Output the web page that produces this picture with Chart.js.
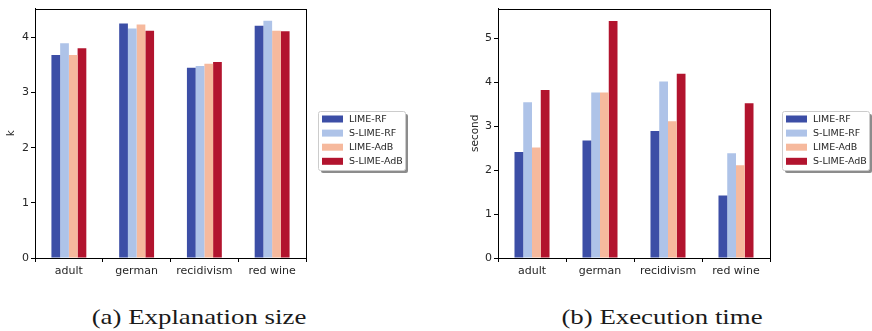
<!DOCTYPE html>
<html>
<head>
<meta charset="utf-8">
<script src="https://cdn.jsdelivr.net/npm/chart.js@4"></script>
<style>
  body { margin: 0; background: #fff; width: 872px; height: 331px; overflow: hidden; position: relative; }
  .box { position: absolute; top: 0; width: 436px; height: 290px; }
  .cap { position: absolute; top: 304px; font-family: "Liberation Serif", serif; font-size: 22px; color: #1a1a1a; white-space: nowrap; transform: translateX(-50%) scaleX(1.22); }
</style>
</head>
<body>
<div class="box" style="left:0"><canvas id="c1" width="436" height="290"></canvas></div>
<div class="box" style="left:436px"><canvas id="c2" width="436" height="290"></canvas></div>
<div class="cap" style="left:199px">(a) Explanation size</div>
<div class="cap" style="left:662px">(b) Execution time</div>
<script>
const categories = ['adult', 'german', 'recidivism', 'red wine'];
const methods = ['LIME-RF', 'S-LIME-RF', 'LIME-AdB', 'S-LIME-AdB'];
const colors = ['#3c4ea6', '#aec3e8', '#f6b99d', '#b2142e'];

// explanation size (k)
const sizeLimeRF = [3.68, 4.25, 3.45, 4.21];
const sizeSLimeRF = [3.89, 4.16, 3.48, 4.30];
const sizeLimeAdB = [3.68, 4.23, 3.52, 4.12];
const sizeSLimeAdB = [3.80, 4.12, 3.55, 4.11];

// execution time (second)
const timeLimeRF = [2.41, 2.67, 2.89, 1.42];
const timeSLimeRF = [3.54, 3.76, 4.01, 2.38];
const timeLimeAdB = [2.51, 3.76, 3.11, 2.11];
const timeSLimeAdB = [3.82, 5.39, 4.19, 3.52];

const tickFont = { family: 'DejaVu Sans', size: 11 };
const titleFont = { family: 'DejaVu Sans', size: 10.5 };

// axes box + legend with shadow, like matplotlib
const boxLegend = {
  id: 'boxLegend',
  afterDraw(chart) {
    const { ctx, chartArea: a } = chart;
    ctx.save();
    ctx.strokeStyle = '#000';
    ctx.lineWidth = 1;
    ctx.strokeRect(Math.round(a.left) + 0.5, Math.round(a.top) + 0.5, Math.round(a.right - a.left), Math.round(a.bottom - a.top));

    const x = Math.round(a.right) + 12, y = 111, w = 87, h = 59;
    ctx.fillStyle = 'rgba(0,0,0,0.45)';
    ctx.beginPath(); ctx.roundRect(x + 3, y + 3, w, h, 2); ctx.fill();
    ctx.fillStyle = '#fff';
    ctx.beginPath(); ctx.roundRect(x + 0.5, y + 0.5, w, h, 2); ctx.fill();
    ctx.strokeStyle = '#cccccc';
    ctx.stroke();
    ctx.font = '9.5px "DejaVu Sans"';
    ctx.textBaseline = 'middle';
    chart.data.datasets.forEach((ds, i) => {
      const cy = y + 8 + i * 14.1;
      ctx.fillStyle = ds.backgroundColor;
      ctx.fillRect(x + 4, cy - 3.5, 21, 7);
      ctx.fillStyle = '#262626';
      ctx.fillText(ds.label, x + 31, cy + 0.5);
    });
    ctx.restore();
  }
};

function makeChart(id, series, yTitle, yMax, yWidth, titlePad, rightPad) {
  new Chart(document.getElementById(id), {
    type: 'bar',
    data: {
      labels: categories,
      datasets: series.map((d, i) => ({
        label: methods[i], data: d, backgroundColor: colors[i], borderWidth: 0
      }))
    },
    options: {
      responsive: false,
      animation: false,
      categoryPercentage: 0.515,
      barPercentage: 1,
      layout: { padding: { left: 0, top: 5, right: rightPad, bottom: 0 } },
      plugins: { legend: { display: false }, tooltip: { enabled: false } },
      scales: {
        x: {
          grid: { display: true, drawOnChartArea: false, drawTicks: true, tickLength: 4, tickColor: '#000' },
          border: { display: true, color: '#000' },
          ticks: { font: tickFont, color: '#262626', padding: 3, maxRotation: 0 },
          afterFit(s) { s.height = 32; }
        },
        y: {
          min: 0, max: yMax,
          grid: { display: true, drawOnChartArea: false, drawTicks: true, tickLength: 4, tickColor: '#000' },
          border: { display: true, color: '#000' },
          ticks: { font: tickFont, color: '#262626', padding: 2, stepSize: 1 },
          afterBuildTicks(s) { s.ticks = s.ticks.filter(t => Number.isInteger(t.value)); },
          title: { display: true, text: yTitle, font: titleFont, color: '#262626', padding: { top: titlePad, bottom: 0 } },
          afterFit(s) { s.width = yWidth; }
        }
      }
    },
    plugins: [boxLegend]
  });
}

makeChart('c1', [sizeLimeRF, sizeSLimeRF, sizeLimeAdB, sizeSLimeAdB], 'k', 4.52, 35, 5, 130);
makeChart('c2', [timeLimeRF, timeSLimeRF, timeLimeAdB, timeSLimeAdB], 'second', 5.67, 62, 33, 102);
</script>
</body>
</html>
